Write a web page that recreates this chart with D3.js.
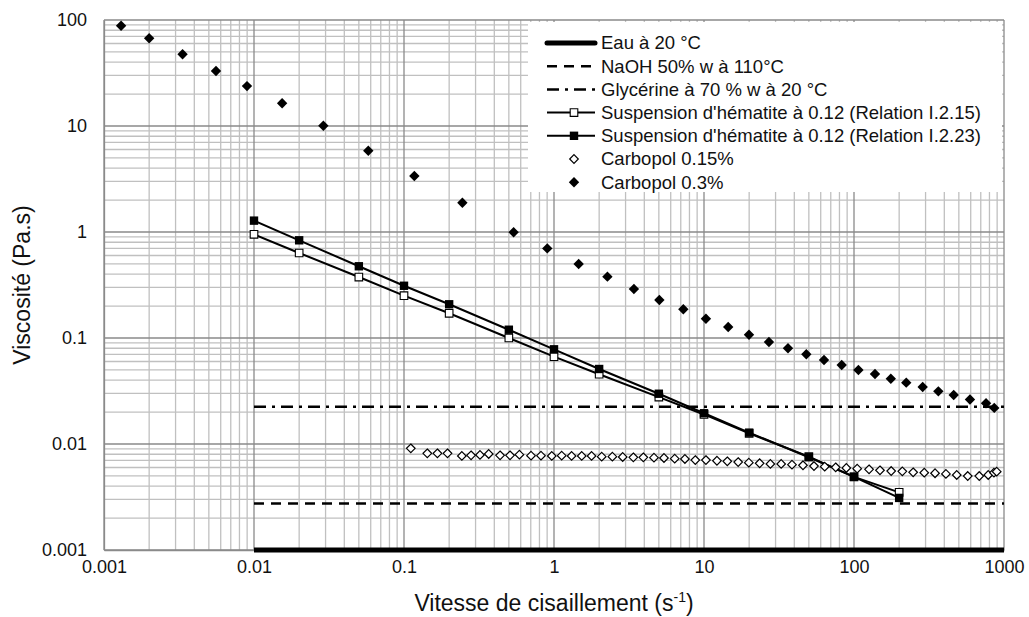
<!DOCTYPE html>
<html><head><meta charset="utf-8">
<script src="https://cdn.jsdelivr.net/npm/d3@7"></script>
<style>body{margin:0;background:#fff}svg{display:block;font-family:"Liberation Sans",Arial,sans-serif}</style>
</head><body><svg id="c" width="1029" height="617"></svg>
<script>
const xTicks=[0.001,0.01,0.1,1,10,100,1000];
const xTickLabels=["0.001","0.01","0.1","1","10","100","1000"];
const yTicks=[0.001,0.01,0.1,1,10,100];
const yTickLabels=["0.001","0.01","0.1","1","10","100"];
const seriesNames=["Eau à 20 °C","NaOH 50% w à 110°C","Glycérine à 70 % w à 20 °C","Suspension d'hématite à 0.12 (Relation I.2.15)","Suspension d'hématite à 0.12 (Relation I.2.23)","Carbopol 0.15%","Carbopol 0.3%"];
const eauX=[0.01,1000], eauY=[0.001,0.001];
const naohX=[0.01,1000], naohY=[0.00275,0.00275];
const glyX=[0.01,1000], glyY=[0.0225,0.0225];
const hemX=[0.01,0.02,0.05,0.1,0.2,0.5,1,2,5,10,20,50,100,200];
const hem15Y=[0.951,0.634,0.376,0.251,0.171,0.1,0.0667,0.0455,0.0277,0.019,0.0126,0.0076,0.0049,0.0035];
const hem23Y=[1.28,0.835,0.475,0.311,0.208,0.1197,0.0782,0.051,0.0298,0.0195,0.0128,0.0075,0.0049,0.0031];
const c15X=[0.111,0.143,0.167,0.195,0.243,0.280,0.321,0.367,0.437,0.509,0.588,0.703,0.819,0.966,1.125,1.31,1.53,1.78,2.08,2.45,2.87,3.38,3.94,4.64,5.41,6.38,7.46,8.75,10.3,12.2,14.3,16.9,19.9,23.5,27.7,32.7,38.6,45.7,54.1,63.8,75.5,88.9,105,126,149,177,210,248,294,347,410,484,573,684,785,857,894];
const c15Y=[0.0091,0.00817,0.00817,0.00817,0.00771,0.00782,0.00788,0.00805,0.00782,0.00782,0.00793,0.00776,0.00776,0.00771,0.00776,0.00771,0.00771,0.00771,0.00759,0.00759,0.00754,0.00749,0.00749,0.00743,0.00738,0.00727,0.00722,0.00706,0.00706,0.00695,0.00687,0.00676,0.00667,0.00658,0.00648,0.00648,0.00638,0.0063,0.0062,0.00611,0.00603,0.00594,0.00585,0.00577,0.00565,0.00556,0.00552,0.00541,0.00536,0.0053,0.00522,0.0051,0.00499,0.00499,0.0051,0.00536,0.00548];
const c30X=[0.0013,0.002,0.00334,0.00558,0.00898,0.0154,0.029,0.0578,0.1172,0.245,0.538,0.902,1.46,2.27,3.41,5.04,7.28,10.3,14.5,19.95,27.1,36.3,48.1,63.1,82.8,107,138,176,223,287,365,462,593,759,861];
const c30Y=[88.4,67.2,47.5,33.0,23.8,16.4,10.07,5.85,3.37,1.89,0.993,0.70,0.499,0.379,0.290,0.228,0.1866,0.152,0.127,0.1074,0.0917,0.080,0.0702,0.062,0.0556,0.0499,0.0457,0.0413,0.0379,0.0345,0.0314,0.029,0.0263,0.0242,0.0219];

const svg=d3.select("#c");
const L=104,R=1004,T=20,B=550;
const x=d3.scaleLog().domain([0.001,1000]).range([L,R]);
const y=d3.scaleLog().domain([0.001,100]).range([B,T]);
const font="18px", legFont="18.5px", titleFont="23px";

// gridlines
const minorX=[],minorY=[];
for(let e=-3;e<3;e++)for(let k=2;k<10;k++)minorX.push(k*Math.pow(10,e));
for(let e=-3;e<2;e++)for(let k=2;k<10;k++)minorY.push(k*Math.pow(10,e));
const g=svg.append("g");
g.selectAll(".mx").data(minorX).join("line").attr("x1",d=>x(d)).attr("x2",d=>x(d)).attr("y1",T).attr("y2",B).attr("stroke","#c0c0c0").attr("stroke-width",1.3);
g.selectAll(".my").data(minorY).join("line").attr("y1",d=>y(d)).attr("y2",d=>y(d)).attr("x1",L).attr("x2",R).attr("stroke","#c0c0c0").attr("stroke-width",1.3);
g.selectAll(".Mx").data(xTicks).join("line").attr("x1",d=>x(d)).attr("x2",d=>x(d)).attr("y1",T).attr("y2",B).attr("stroke","#8a8a8a").attr("stroke-width",1.3);
g.selectAll(".My").data(yTicks).join("line").attr("y1",d=>y(d)).attr("y2",d=>y(d)).attr("x1",L).attr("x2",R).attr("stroke","#8a8a8a").attr("stroke-width",1.3);

// axes (labels only)
const xAxis=d3.axisBottom(x).tickValues(xTicks).tickFormat((d,i)=>xTickLabels[i]).tickSize(0).tickPadding(10);
const yAxis=d3.axisLeft(y).tickValues(yTicks).tickFormat((d,i)=>yTickLabels[i]).tickSize(0).tickPadding(17);
const gx=svg.append("g").attr("transform",`translate(0,${B})`).call(xAxis);
const gy=svg.append("g").attr("transform",`translate(${L},0)`).call(yAxis);
[gx,gy].forEach(a=>{a.select(".domain").attr("stroke","#8a8a8a").attr("stroke-width",1.3);a.selectAll("text").attr("font-size",font).attr("fill","#111").attr("font-family","Liberation Sans, Arial, sans-serif");});

const line=d3.line().x(d=>x(d[0])).y(d=>y(d[1]));
const zip=(a,b)=>a.map((v,i)=>[v,b[i]]);
svg.append("path").attr("d",line(zip(naohX,naohY))).attr("fill","none").attr("stroke","#000").attr("stroke-width",2.5).attr("stroke-dasharray","10,7");
svg.append("path").attr("d",line(zip(glyX,glyY))).attr("fill","none").attr("stroke","#000").attr("stroke-width",2.5).attr("stroke-dasharray","12,6,3,6");
svg.append("path").attr("d",line(zip(hemX,hem15Y))).attr("fill","none").attr("stroke","#000").attr("stroke-width",2);
svg.append("path").attr("d",line(zip(hemX,hem23Y))).attr("fill","none").attr("stroke","#000").attr("stroke-width",2);
svg.append("path").attr("d",line(zip(eauX,eauY))).attr("fill","none").attr("stroke","#000").attr("stroke-width",5);

const sq=s=>`M${-s},${-s}H${s}V${s}H${-s}Z`;
const dm=s=>`M0,${-s}L${s},0L0,${s}L${-s},0Z`;
svg.selectAll(".o15").data(zip(hemX,hem15Y)).join("path").attr("d",sq(3.8)).attr("transform",d=>`translate(${x(d[0])},${y(d[1])})`).attr("fill","#fff").attr("stroke","#000").attr("stroke-width",1.1);
svg.selectAll(".o23").data(zip(hemX,hem23Y)).join("path").attr("d",sq(4.2)).attr("transform",d=>`translate(${x(d[0])},${y(d[1])})`).attr("fill","#000");
svg.selectAll(".c15").data(zip(c15X,c15Y)).join("path").attr("d",dm(4.3)).attr("transform",d=>`translate(${x(d[0])},${y(d[1])})`).attr("fill","#fff").attr("stroke","#000").attr("stroke-width",1.2);
svg.selectAll(".c30").data(zip(c30X,c30Y)).join("path").attr("d",dm(5.2)).attr("transform",d=>`translate(${x(d[0])},${y(d[1])})`).attr("fill","#000");

// legend
const lg=svg.append("g");
lg.append("rect").attr("x",528).attr("y",22).attr("width",474).attr("height",170).attr("fill","#fff");
const rowY=i=>43+i*23.2;
const sx1=547,sx2=595,mx=574,tx=601;
const styles=[
 {w:5,dash:null},{w:2.5,dash:"10,7"},{w:2.5,dash:"12,6,3,6"},{w:2,dash:null,m:"os"},{w:2,dash:null,m:"fs"},{m:"od"},{m:"fd"}];
styles.forEach((s,i)=>{
  const yy=rowY(i);
  if(s.w){const l=lg.append("line").attr("x1",sx1).attr("x2",sx2).attr("y1",yy).attr("y2",yy).attr("stroke","#000").attr("stroke-width",s.w);if(s.dash)l.attr("stroke-dasharray",s.dash);if(i===0)l.attr("stroke-linecap","round");}
  if(s.m==="os")lg.append("path").attr("d",sq(3.8)).attr("transform",`translate(${mx},${yy})`).attr("fill","#fff").attr("stroke","#000").attr("stroke-width",1.1);
  if(s.m==="fs")lg.append("path").attr("d",sq(4.2)).attr("transform",`translate(${mx},${yy})`).attr("fill","#000");
  if(s.m==="od")lg.append("path").attr("d",dm(4.3)).attr("transform",`translate(${mx},${yy})`).attr("fill","#fff").attr("stroke","#000").attr("stroke-width",1.2);
  if(s.m==="fd")lg.append("path").attr("d",dm(5.2)).attr("transform",`translate(${mx},${yy})`).attr("fill","#000");
  lg.append("text").attr("x",tx).attr("y",yy).attr("dy","0.35em").attr("font-size",legFont).attr("fill","#111").text(seriesNames[i]);
});

// titles
const xt=svg.append("text").attr("x",(L+R)/2).attr("y",611).attr("text-anchor","middle").attr("font-size",titleFont).attr("fill","#111");
xt.append("tspan").text("Vitesse de cisaillement (s");
xt.append("tspan").attr("font-size","14px").attr("dy","-9").text("-1");
xt.append("tspan").attr("dy","9").text(")");
svg.append("text").attr("transform",`translate(22,${(T+B)/2}) rotate(-90)`).attr("text-anchor","middle").attr("dy","0.35em").attr("font-size",titleFont).attr("fill","#111").text("Viscosité (Pa.s)");
</script></body></html>
